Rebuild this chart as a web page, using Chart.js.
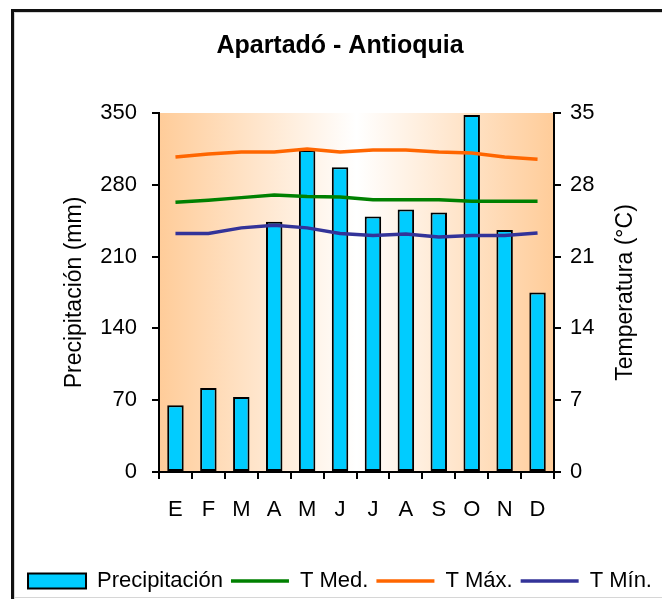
<!DOCTYPE html>
<html>
<head>
<meta charset="utf-8">
<script src="https://cdn.jsdelivr.net/npm/chart.js@4.4.1/dist/chart.umd.min.js"></script>
<style>
  html, body { margin: 0; padding: 0; background: #fff; }
  #wrap { position: relative; width: 662px; height: 599px; }
</style>
</head>
<body>
<div id="wrap"><canvas id="clima"></canvas></div>
<script>
// Datos del climograma
const meses = ['E', 'F', 'M', 'A', 'M', 'J', 'J', 'A', 'S', 'O', 'N', 'D'];
const precipitacion = [65, 82, 73, 244, 314, 297, 249, 256, 253, 348, 236, 175];
const tMed = [26.3, 26.5, 26.75, 27.0, 26.85, 26.8, 26.55, 26.55, 26.55, 26.4, 26.4, 26.4];
const tMax = [30.7, 31.0, 31.2, 31.2, 31.5, 31.2, 31.4, 31.4, 31.2, 31.1, 30.7, 30.5];
const tMin = [23.25, 23.25, 23.8, 24.05, 23.8, 23.25, 23.05, 23.2, 22.9, 23.05, 23.05, 23.3];
const ticksPrecip = [0, 70, 140, 210, 280, 350];
const ticksTemp = [0, 7, 14, 21, 28, 35];

const FUENTE = '"Liberation Sans", Arial, sans-serif';
Chart.defaults.font.family = FUENTE;
Chart.defaults.color = '#000';

// Marco, fondo degradado y titulo del eje derecho
const fondo = {
    id: 'fondo',
    beforeDraw(chart) {
        const c = chart.ctx;
        const { left, right, top, bottom } = chart.chartArea;
        c.save();
        c.fillStyle = '#fff';
        c.fillRect(0, 0, chart.width, chart.height);
        c.fillStyle = '#111';
        c.fillRect(11, 9, 3, chart.height - 9);
        c.fillRect(11, 9, chart.width - 11, 3);
        c.fillStyle = '#d6d6d6';
        c.fillRect(14, 12, 1, chart.height - 12);
        c.fillRect(14, 12, chart.width - 14, 1);
        c.fillRect(14, 597, chart.width - 14, 1);

        const g = c.createLinearGradient(left, 0, right, 0);
        g.addColorStop(0, '#FFCC99');
        g.addColorStop(0.5, '#FFFFFF');
        g.addColorStop(1, '#FFCC99');
        c.fillStyle = g;
        c.fillRect(left, top, right - left, bottom - top);

        c.translate(626, (top + bottom) / 2);
        c.rotate(-Math.PI / 2);
        c.font = '23px ' + FUENTE;
        c.fillStyle = '#000';
        c.textAlign = 'center';
        c.textBaseline = 'middle';
        c.fillText('Temperatura (°C)', 0, 0);
        c.restore();
    }
};

const linea = (label, data, color) => ({
    type: 'line',
    label: label,
    data: data,
    yAxisID: 'yT',
    borderColor: color,
    backgroundColor: color,
    borderWidth: 3.5,
    tension: 0,
    pointRadius: 0,
    order: 0
});

new Chart(document.getElementById('clima'), {
    type: 'bar',
    data: {
        labels: meses,
        datasets: [
            {
                label: 'Precipitación',
                data: precipitacion,
                yAxisID: 'yP',
                backgroundColor: '#00CCFF',
                borderColor: '#000',
                borderWidth: 2,
                borderSkipped: false,
                categoryPercentage: 1,
                barPercentage: 0.5,
                order: 1
            },
            linea('T Med.', tMed, '#008000'),
            linea('T Máx.', tMax, '#FF6600'),
            linea('T Mín.', tMin, '#333399')
        ]
    },
    options: {
        responsive: true,
        maintainAspectRatio: false,
        animation: false,
        layout: { padding: { left: 18, right: 0, top: 0, bottom: -3 } },
        scales: {
            x: {
                grid: { drawOnChartArea: false, color: '#000', lineWidth: 2, tickLength: 7 },
                border: { color: '#000', width: 2 },
                ticks: { font: { size: 22 }, padding: 18, maxRotation: 0 },
                afterFit(s) { s.height = 90; }
            },
            yP: {
                position: 'left',
                min: 0,
                max: 350,
                afterBuildTicks(s) { s.ticks = ticksPrecip.map(v => ({ value: v })); },
                grid: { drawOnChartArea: false, color: '#000', lineWidth: 2, tickLength: 7 },
                border: { color: '#000', width: 2 },
                ticks: { font: { size: 22 }, padding: 15 },
                title: {
                    display: true,
                    text: 'Precipitación (mm)',
                    font: { size: 23 },
                    padding: { top: 43, bottom: 0 }
                },
                afterFit(s) { s.width = 141; }
            },
            yT: {
                position: 'right',
                min: 0,
                max: 35,
                afterBuildTicks(s) { s.ticks = ticksTemp.map(v => ({ value: v })); },
                grid: { drawOnChartArea: false, color: '#000', lineWidth: 2, tickLength: 7 },
                border: { color: '#000', width: 2 },
                ticks: { font: { size: 22 }, padding: 9 },
                afterFit(s) { s.width = 108; }
            }
        },
        plugins: {
            title: {
                display: true,
                text: 'Apartadó - Antioquia',
                font: { size: 25, weight: 'bold' },
                color: '#000',
                padding: { top: 31, bottom: 52 }
            },
            legend: {
                position: 'bottom',
                labels: {
                    font: { size: 22 },
                    usePointStyle: true,
                    pointStyleWidth: 58,
                    boxHeight: 15,
                    padding: 8,
                    sort: (a, b) => a.datasetIndex - b.datasetIndex,
                    generateLabels(chart) {
                        const items = Chart.defaults.plugins.legend.labels.generateLabels(chart);
                        items.forEach(it => {
                            it.pointStyle = it.datasetIndex === 0 ? 'rect' : 'line';
                        });
                        return items;
                    }
                }
            },
            tooltip: { enabled: false }
        }
    },
    plugins: [fondo]
});
</script>
</body>
</html>
